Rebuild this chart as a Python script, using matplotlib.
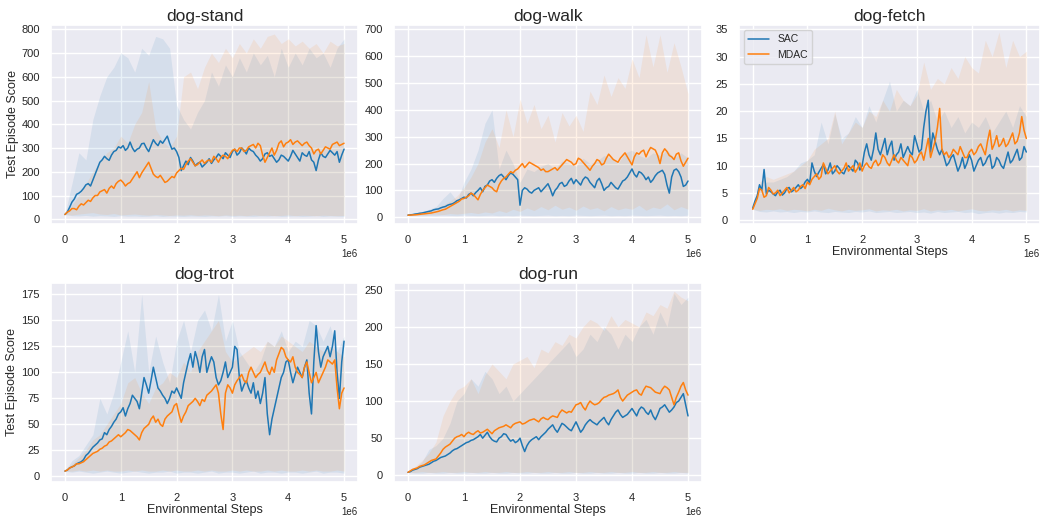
import numpy as np
import matplotlib
matplotlib.use("Agg")
import matplotlib.pyplot as plt
import seaborn as sns

# ---- data (x in env steps, 0 .. 5e6) ----
tasks = ["dog-stand", "dog-walk", "dog-fetch", "dog-trot", "dog-run"]

# mean curves, 121 points each
stand_sac = [20, 30, 50, 72, 85, 105, 110, 118, 130, 145, 150, 140, 165, 190, 215, 240, 250, 265, 255, 248,
             270, 285, 290, 305, 300, 310, 290, 300, 325, 300, 285, 295, 300, 318, 320, 300, 285, 310, 335, 320,
             310, 330, 320, 335, 350, 320, 295, 300, 285, 260, 205, 225, 245, 230, 260, 245, 225, 235, 240, 220,
             230, 240, 255, 235, 250, 260, 275, 265, 255, 280, 270, 260, 285, 295, 270, 280, 300, 290, 275, 300,
             290, 285, 270, 260, 245, 255, 275, 280, 265, 270, 255, 240, 250, 270, 265, 255, 245, 265, 290, 275,
             260, 245, 280, 270, 265, 285, 250, 240, 205, 250, 280, 265, 260, 275, 290, 280, 270, 285, 240, 270, 295]
stand_mdac = [20, 30, 35, 45, 45, 40, 55, 65, 60, 70, 80, 75, 90, 100, 100, 115, 120, 125, 110, 130,
              140, 130, 150, 160, 165, 155, 140, 150, 155, 170, 185, 200, 175, 195, 210, 225, 240, 215, 190, 180,
              175, 185, 170, 155, 160, 170, 180, 175, 195, 205, 215, 210, 230, 245, 255, 240, 225, 230, 240, 250,
              235, 245, 250, 240, 265, 255, 240, 260, 270, 265, 255, 275, 290, 295, 285, 300, 300, 285, 290, 305,
              310, 315, 300, 320, 310, 270, 240, 260, 280, 300, 270, 290, 320, 330, 305, 320, 325, 335, 315, 325,
              330, 320, 310, 320, 325, 310, 300, 275, 290, 295, 275, 290, 305, 300, 295, 315, 320, 325, 310, 315, 320]

walk_sac = [8, 9, 10, 12, 13, 15, 16, 18, 20, 22, 24, 28, 30, 31, 35, 38, 40, 45, 48, 50,
            55, 62, 65, 70, 75, 72, 85, 90, 80, 92, 100, 110, 95, 115, 120, 135, 140, 130, 145, 155,
            160, 150, 140, 155, 165, 160, 150, 140, 45, 100, 110, 105, 95, 90, 100, 105, 110, 95, 105, 115,
            125, 105, 80, 100, 110, 125, 130, 115, 120, 135, 145, 125, 140, 130, 120, 140, 150, 145, 130, 120,
            110, 135, 145, 125, 100, 110, 115, 130, 120, 110, 105, 120, 135, 140, 150, 165, 180, 160, 150, 170,
            165, 155, 140, 150, 130, 140, 155, 165, 170, 175, 160, 120, 90, 150, 175, 180, 170, 150, 115, 120, 135]
walk_mdac = [8, 8, 9, 9, 10, 11, 12, 13, 14, 15, 16, 18, 20, 22, 25, 28, 30, 35, 40, 45,
             50, 55, 60, 68, 70, 75, 80, 90, 85, 75, 65, 85, 100, 110, 120, 115, 110, 100, 95, 120,
             135, 145, 150, 160, 170, 165, 175, 180, 190, 200, 185, 195, 205, 200, 195, 190, 185, 175, 180, 170,
             170, 175, 180, 185, 175, 185, 195, 205, 215, 210, 205, 195, 200, 220, 215, 205, 195, 185, 175, 190,
             200, 215, 210, 195, 200, 220, 235, 225, 215, 210, 205, 220, 230, 240, 225, 210, 195, 225, 240, 235,
             245, 250, 225, 245, 260, 255, 250, 230, 200, 240, 255, 245, 230, 225, 215, 235, 240, 210, 190, 205, 220]

fetch_sac = [2.2, 3.5, 4.5, 6.5, 5.5, 9.3, 4.8, 5.5, 5.2, 4.8, 4.5, 5.2, 5.5, 4.6, 5.0, 5.8, 6.0, 5.2, 5.5, 6.0,
             6.5, 5.8, 6.2, 7.0, 7.5, 6.8, 10.5, 9.0, 8.0, 8.8, 9.5, 10.2, 8.5, 9.2, 10.5, 8.5, 9.0, 10.0, 9.5, 8.8,
             8.5, 9.5, 10.0, 9.5, 9.0, 11.0, 10.5, 9.2, 10.0, 12.5, 14.0, 12.0, 11.0, 13.0, 16.0, 13.0, 12.0, 13.5, 15.0, 12.0,
             13.5, 14.5, 11.0, 12.0, 12.5, 14.0, 11.5, 12.5, 13.5, 12.5, 12.0, 15.5, 14.0, 12.5, 13.0, 17.0, 20.0, 22.0, 12.5, 16.0,
             14.5, 13.0, 12.0, 13.0, 11.5, 10.0, 10.5, 11.5, 12.0, 10.5, 9.0, 10.0, 11.5, 9.5, 10.5, 12.0, 11.0, 9.0, 10.0, 11.0,
             11.5, 10.0, 10.5, 11.5, 12.0, 9.5, 10.0, 11.5, 11.0, 10.0, 9.5, 11.0, 12.5, 10.5, 11.0, 12.0, 13.0, 11.0, 11.5, 13.5, 12.5]
fetch_mdac = [2.0, 3.0, 4.0, 5.8, 5.5, 4.2, 4.5, 6.0, 5.5, 4.8, 5.0, 5.5, 4.5, 5.0, 5.5, 6.0, 5.0, 5.5, 6.0, 5.2,
              5.5, 6.2, 6.5, 5.8, 7.0, 6.5, 7.5, 8.0, 8.5, 7.5, 8.0, 10.5, 9.5, 8.5, 9.0, 9.5, 10.0, 9.0, 8.5, 9.0,
              9.5, 10.5, 9.0, 9.5, 10.0, 8.8, 9.5, 10.5, 9.0, 10.0, 10.5, 9.8, 9.5, 10.5, 11.0, 10.0, 10.5, 12.0, 11.5, 10.5,
              10.0, 11.0, 12.0, 11.0, 10.5, 11.5, 11.0, 10.5, 10.0, 12.0, 11.5, 10.5, 11.0, 12.0, 12.5, 11.0, 13.0, 15.0, 11.5, 13.0,
              14.5, 17.0, 20.5, 13.0, 12.0, 12.5, 11.5, 12.0, 13.0, 12.5, 12.0, 13.5, 12.5, 11.5, 11.5, 12.5, 13.0, 12.0, 12.5, 13.5,
              14.0, 13.0, 12.0, 14.5, 16.5, 13.0, 14.0, 15.5, 13.5, 14.0, 15.0, 13.5, 14.0, 15.0, 16.0, 14.0, 14.5, 16.0, 19.0, 16.5, 15.0]

trot_sac = [5, 6, 8, 9, 10, 12, 13, 14, 16, 20, 22, 25, 28, 30, 32, 35, 36, 42, 40, 45,
            48, 52, 55, 60, 62, 66, 58, 65, 70, 78, 75, 72, 65, 80, 95, 88, 80, 92, 105, 95,
            85, 82, 78, 75, 70, 75, 82, 80, 85, 80, 75, 90, 100, 110, 118, 105, 120, 112, 100, 115,
            122, 100, 108, 115, 110, 95, 88, 92, 100, 110, 95, 100, 105, 125, 122, 95, 82, 88, 92, 85,
            80, 90, 75, 82, 70, 80, 95, 60, 40, 55, 65, 75, 85, 95, 100, 110, 112, 100, 90, 98,
            105, 100, 95, 105, 112, 80, 60, 110, 145, 120, 105, 115, 120, 125, 115, 125, 140, 100, 75, 110, 130]
trot_mdac = [5, 6, 8, 9, 10, 12, 12, 13, 14, 16, 18, 20, 22, 23, 24, 26, 27, 29, 30, 33,
             34, 36, 38, 40, 38, 40, 42, 45, 44, 42, 40, 38, 35, 42, 46, 48, 50, 55, 58, 52,
             55, 50, 48, 55, 58, 60, 62, 68, 70, 60, 52, 58, 62, 68, 70, 72, 75, 72, 68, 74,
             72, 78, 80, 82, 85, 88, 80, 60, 45, 80, 88, 85, 80, 88, 92, 95, 98, 92, 90, 100,
             105, 100, 95, 98, 100, 105, 110, 102, 98, 105, 100, 112, 118, 124, 122, 115, 112, 110, 115, 105,
             100, 98, 95, 105, 110, 100, 90, 95, 100, 90, 95, 100, 105, 112, 110, 108, 112, 85, 65, 80, 85]

run_sac = [4, 5, 7, 8, 9, 11, 12, 13, 14, 15, 17, 19, 20, 22, 24, 25, 26, 28, 30, 33,
           35, 36, 38, 40, 42, 44, 45, 47, 48, 50, 52, 55, 50, 54, 58, 52, 48, 46, 45, 50,
           52, 56, 55, 50, 46, 48, 44, 46, 50, 40, 32, 40, 45, 48, 50, 52, 48, 52, 55, 58,
           62, 65, 68, 62, 58, 64, 70, 68, 65, 62, 60, 66, 72, 65, 58, 62, 68, 72, 75, 72,
           70, 68, 72, 75, 78, 72, 68, 75, 80, 85, 88, 82, 78, 80, 82, 86, 90, 85, 80, 88,
           92, 90, 85, 82, 88, 80, 75, 82, 90, 92, 95, 90, 85, 88, 92, 98, 100, 105, 110, 95, 80]
run_mdac = [4, 6, 8, 9, 10, 12, 13, 14, 16, 18, 20, 21, 22, 26, 30, 35, 38, 40, 42, 46,
            50, 52, 53, 55, 52, 56, 58, 56, 55, 58, 60, 57, 58, 60, 62, 59, 56, 60, 62, 64,
            65, 66, 68, 66, 64, 68, 70, 71, 72, 69, 70, 72, 74, 75, 76, 74, 72, 76, 78, 76,
            75, 78, 80, 79, 78, 84, 88, 86, 84, 86, 85, 90, 95, 96, 98, 92, 88, 95, 100, 97,
            95, 96, 98, 102, 105, 106, 108, 109, 110, 112, 115, 105, 100, 104, 108, 110, 112, 114, 115, 110,
            108, 115, 120, 119, 118, 115, 112, 111, 110, 116, 120, 118, 115, 105, 95, 105, 112, 120, 125, 115, 108]

# min / max envelopes, 41 points each
stand_sac_hi = [20, 150, 280, 250, 420, 520, 600, 640, 700, 680, 620, 720, 690, 770, 760, 720, 480, 420, 380, 450,
                500, 620, 560, 650, 600, 680, 620, 700, 650, 690, 600, 720, 640, 700, 650, 720, 680, 700, 640, 720, 760]
stand_sac_lo = [20, 15, 14, 16, 13, 15, 14, 12, 15, 13, 14, 12, 13, 15, 12, 14, 13, 12, 14, 13,
                12, 14, 13, 15, 12, 14, 13, 12, 14, 13, 15, 12, 13, 14, 12, 13, 15, 12, 14, 13, 12]
stand_mdac_hi = [20, 60, 100, 150, 200, 240, 280, 300, 350, 320, 400, 450, 580, 380, 330, 300, 350, 600, 620, 550,
                 640, 700, 660, 720, 680, 740, 700, 760, 720, 770, 780, 740, 760, 730, 750, 720, 740, 700, 750, 730, 740]
stand_mdac_lo = [20, 18, 22, 25, 28, 22, 20, 24, 18, 20, 22, 19, 17, 20, 18, 16, 18, 17, 19, 16,
                 18, 17, 15, 18, 16, 17, 15, 18, 16, 17, 15, 16, 18, 15, 17, 16, 15, 17, 16, 15, 16]

walk_sac_hi = [8, 15, 20, 30, 40, 70, 95, 60, 130, 180, 250, 350, 400, 180, 250, 200, 130, 180, 170, 190,
               200, 180, 210, 200, 190, 220, 200, 210, 230, 220, 200, 240, 250, 230, 220, 240, 230, 250, 220, 240, 220]
walk_sac_lo = [8, 7, 6, 7, 6, 8, 7, 6, 8, 7, 6, 7, 8, 6, 7, 6, 8, 7, 6, 7,
               8, 6, 7, 6, 8, 7, 6, 7, 8, 6, 7, 6, 8, 7, 6, 7, 8, 6, 7, 6, 8]
walk_mdac_hi = [8, 12, 18, 25, 35, 45, 60, 80, 110, 150, 200, 280, 330, 260, 400, 300, 440, 350, 420, 330,
                380, 280, 390, 340, 380, 320, 470, 420, 530, 450, 520, 480, 590, 520, 680, 560, 680, 540, 650, 560, 460]
walk_mdac_lo = [8, 8, 9, 10, 12, 10, 14, 12, 15, 18, 14, 20, 16, 25, 18, 30, 22, 35, 25, 40,
                28, 45, 30, 38, 26, 42, 30, 36, 24, 40, 28, 35, 30, 45, 26, 38, 32, 50, 28, 40, 30]

fetch_sac_hi = [2.5, 6, 7, 7, 7.5, 8, 9, 10.5, 11, 12, 18, 14, 19.5, 15, 16, 19, 17, 21, 18, 22,
                25.5, 20, 22, 21, 24, 20, 22, 18, 20, 17, 19, 16, 18, 17, 19, 16, 18, 20, 17, 21, 19]
fetch_sac_lo = [2.0, 1.6, 1.5, 1.7, 1.5, 1.6, 1.4, 1.6, 1.5, 1.7, 1.5, 1.4, 1.6, 1.5, 1.4, 1.6, 1.5, 1.7, 1.4, 1.5,
                1.6, 1.4, 1.5, 1.6, 1.4, 1.5, 1.3, 1.6, 1.4, 1.5, 1.6, 1.4, 1.5, 1.2, 1.4, 1.5, 1.3, 1.5, 1.4, 1.6, 1.5]
fetch_mdac_hi = [2.5, 7, 8, 7.5, 8, 8.5, 9, 10, 11, 13, 14, 15, 20, 14, 16, 18, 17, 20, 19, 22,
                 20, 24, 22, 21, 23, 29, 24, 26, 25, 28, 26, 30, 28, 27, 33, 30, 34.5, 28, 33, 30, 31]
fetch_mdac_lo = [2.0, 1.8, 2.0, 1.9, 2.1, 1.8, 2.0, 1.9, 1.7, 2.0, 1.8, 2.2, 1.9, 1.7, 2.0, 1.8, 1.9, 2.1, 1.7, 1.9,
                 1.8, 2.0, 1.7, 1.9, 1.8, 2.1, 1.7, 1.9, 1.8, 2.0, 1.7, 1.9, 2.1, 1.8, 1.7, 1.9, 1.8, 2.0, 1.7, 1.9, 1.8]

trot_sac_hi = [5, 15, 20, 30, 40, 75, 60, 80, 110, 140, 100, 175, 100, 135, 110, 90, 130, 150, 120, 150,
               160, 140, 175, 130, 150, 120, 110, 100, 110, 130, 125, 140, 120, 130, 125, 150, 145, 130, 145, 120, 135]
trot_sac_lo = [5, 4, 5, 4, 3, 4, 5, 4, 3, 4, 5, 4, 3, 4, 4, 5, 3, 4, 4, 3,
               4, 5, 3, 4, 4, 3, 4, 5, 3, 4, 4, 3, 4, 4, 3, 4, 5, 3, 4, 4, 3]
trot_mdac_hi = [5, 12, 18, 25, 35, 40, 50, 60, 70, 90, 95, 80, 70, 85, 90, 100, 95, 110, 100, 120,
                130, 140, 150, 120, 110, 115, 120, 125, 120, 130, 125, 135, 130, 125, 120, 130, 125, 120, 125, 120, 115]
trot_mdac_lo = [5, 5, 6, 5, 6, 5, 6, 5, 5, 6, 5, 6, 5, 5, 6, 5, 6, 5, 5, 6,
                5, 6, 5, 5, 6, 5, 6, 5, 5, 6, 5, 6, 5, 5, 6, 5, 6, 5, 5, 6, 5]

run_sac_hi = [4, 10, 18, 35, 40, 50, 70, 100, 110, 130, 120, 140, 130, 110, 120, 100, 110, 120, 130, 140,
              150, 160, 170, 180, 160, 170, 190, 180, 200, 190, 170, 190, 180, 200, 210, 190, 220, 200, 245, 230, 240]
run_sac_lo = [4, 3, 3, 4, 3, 3, 4, 3, 3, 4, 3, 3, 4, 3, 3, 4, 3, 3, 4, 3,
              3, 4, 3, 3, 4, 3, 3, 4, 3, 3, 4, 3, 3, 4, 3, 3, 4, 3, 3, 4, 3]
run_mdac_hi = [4, 12, 20, 30, 45, 80, 100, 115, 120, 130, 110, 135, 150, 140, 130, 150, 155, 160, 145, 170,
               165, 180, 175, 190, 185, 200, 210, 205, 195, 215, 200, 210, 205, 200, 220, 215, 230, 225, 248, 240, 235]
run_mdac_lo = [4, 4, 5, 4, 4, 5, 4, 4, 5, 4, 4, 5, 4, 4, 5, 4, 4, 5, 4, 4,
               5, 4, 4, 5, 4, 4, 5, 4, 4, 5, 4, 4, 5, 4, 4, 5, 4, 4, 5, 4, 4]

means = {
    "dog-stand": (stand_sac, stand_mdac),
    "dog-walk": (walk_sac, walk_mdac),
    "dog-fetch": (fetch_sac, fetch_mdac),
    "dog-trot": (trot_sac, trot_mdac),
    "dog-run": (run_sac, run_mdac),
}
bands = {
    "dog-stand": ((stand_sac_lo, stand_sac_hi), (stand_mdac_lo, stand_mdac_hi)),
    "dog-walk": ((walk_sac_lo, walk_sac_hi), (walk_mdac_lo, walk_mdac_hi)),
    "dog-fetch": ((fetch_sac_lo, fetch_sac_hi), (fetch_mdac_lo, fetch_mdac_hi)),
    "dog-trot": ((trot_sac_lo, trot_sac_hi), (trot_mdac_lo, trot_mdac_hi)),
    "dog-run": ((run_sac_lo, run_sac_hi), (run_mdac_lo, run_mdac_hi)),
}
ylims = {
    "dog-stand": (-20, 818),
    "dog-walk": (-25, 716),
    "dog-fetch": (-0.7, 35.8),
    "dog-trot": (-5.5, 186),
    "dog-run": (-9, 259),
}
yticks = {
    "dog-stand": range(0, 801, 100),
    "dog-walk": range(0, 701, 100),
    "dog-fetch": range(0, 36, 5),
    "dog-trot": range(0, 176, 25),
    "dog-run": range(0, 251, 50),
}

sns.set_theme(style="darkgrid")
plt.rcParams["font.family"] = ["Liberation Sans", "DejaVu Sans"]

W, H = 1045, 516
fig = plt.figure(figsize=(W / 100, H / 100), dpi=100)

# axes boxes in pixels: (left, top, right, bottom)
boxes = {
    "dog-stand": (51, 25, 358, 224),
    "dog-walk": (394, 25, 702, 224),
    "dog-fetch": (739, 25, 1040, 224),
    "dog-trot": (51, 283, 358, 482),
    "dog-run": (394, 283, 702, 482),
}

colors = ["#1f77b4", "#ff7f0e"]
labels = ["SAC", "MDAC"]

for task in tasks:
    l, t, r, b = boxes[task]
    ax = fig.add_axes([l / W, 1 - b / H, (r - l) / W, (b - t) / H])
    x_mean = np.linspace(0, 5e6, len(means[task][0]))
    x_band = np.linspace(0, 5e6, len(bands[task][0][0]))
    for k in range(2):
        lo, hi = bands[task][k]
        ax.fill_between(x_band, lo, hi, color=colors[k], alpha=0.1, linewidth=0)
    for k in range(2):
        ax.plot(x_mean, means[task][k], color=colors[k], lw=1.1, label=labels[k])
    ax.set_xlim(-0.25e6, 5.25e6)
    ax.set_ylim(*ylims[task])
    ax.set_yticks(list(yticks[task]))
    ax.set_xticks([0, 1e6, 2e6, 3e6, 4e6, 5e6])
    ax.tick_params(labelsize=8, pad=2)
    ax.xaxis.get_offset_text().set_fontsize(7)
    ax.set_title(task, fontsize=12.5, pad=3)
    if task in ("dog-stand", "dog-trot"):
        ax.set_ylabel("Test Episode Score", fontsize=9, labelpad=2)
    if task in ("dog-fetch", "dog-trot", "dog-run"):
        ax.set_xlabel("Environmental Steps", fontsize=9, labelpad=1)
    if task == "dog-fetch":
        ax.legend(loc="upper left", fontsize=7.5, frameon=True)

fig.savefig("out.png", dpi=100)
